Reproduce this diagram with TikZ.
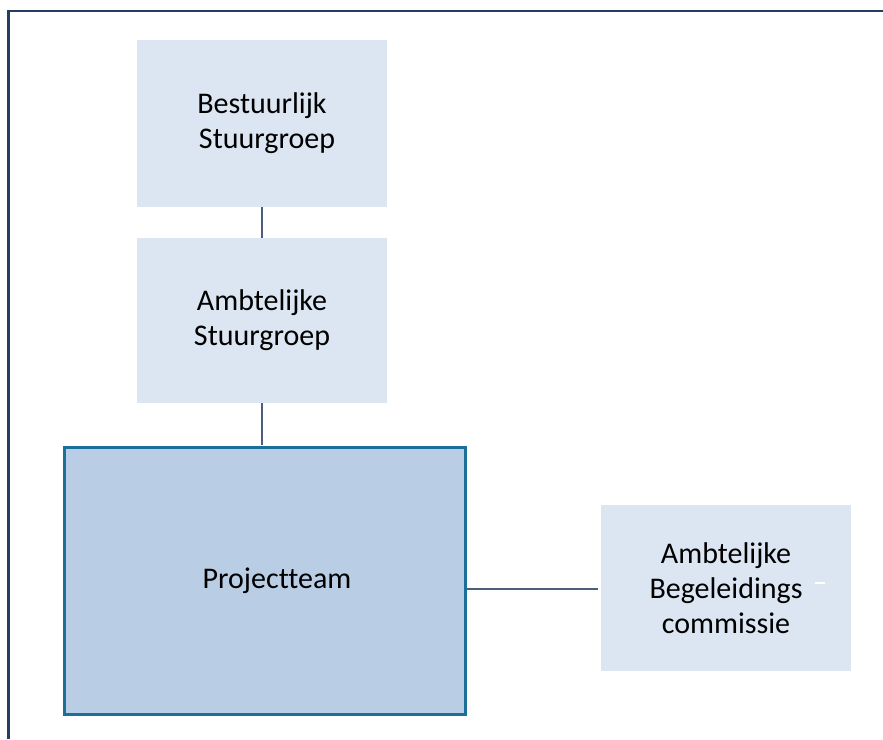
\documentclass[tikz,border=0pt]{standalone}
\usepackage{fontspec}
\setmainfont{Carlito}[Ligatures={NoCommon,NoRare}]
\definecolor{framenavy}{HTML}{233E62}
\definecolor{boxlight}{HTML}{DCE6F2}
\definecolor{boxteam}{HTML}{B9CDE5}
\definecolor{teamrim}{HTML}{1B6F99}
\definecolor{linkgray}{HTML}{4A5F7A}
\begin{document}
\begin{tikzpicture}[x=1pt,y=-1pt,
		orgbox/.style={fill=boxlight,draw=none,minimum width=250pt,align=center,font=\fontsize{30}{35}\selectfont},
		teambox/.style={fill=boxteam,draw=teamrim,line width=3pt,minimum width=401pt,minimum height=267pt,font=\fontsize{30}{35}\selectfont},
		link/.style={draw=linkgray,line width=2.6pt}]
			\useasboundingbox (0,0) rectangle (883,739);
			% outer frame, cut off at the right and bottom
			\draw[framenavy,line width=2.6pt] (8.7,739) to (8.7,11) to (883,11);
			\node[orgbox,minimum height=167pt] (bestuur) at (262,123.5) {Bestuurlijk\\\hspace*{10pt}Stuurgroep};
			\node[orgbox,minimum height=165pt] (ambt) at (262,320.5) {Ambtelijke\\Stuurgroep};
			\node[teambox] (team) at (265,581) {\hspace*{24pt}Projectteam};
			\node[orgbox,minimum height=166pt] (begel) at (726,588) {Ambtelijke\\Begeleidings\\commissie};
			\draw[link] (bestuur.south) to (ambt.north);
			\draw[link,shorten >=1.5pt] (ambt.south) to (ambt.south |- team.north);
			\draw[link,shorten >=3pt] (team.east |- begel.west) ++(0,1) coordinate (tm) (tm) to (tm -| begel.west);
			\draw[white,line width=1.5pt] (815,583) to (825,583);
		\end{tikzpicture}
\end{document}
